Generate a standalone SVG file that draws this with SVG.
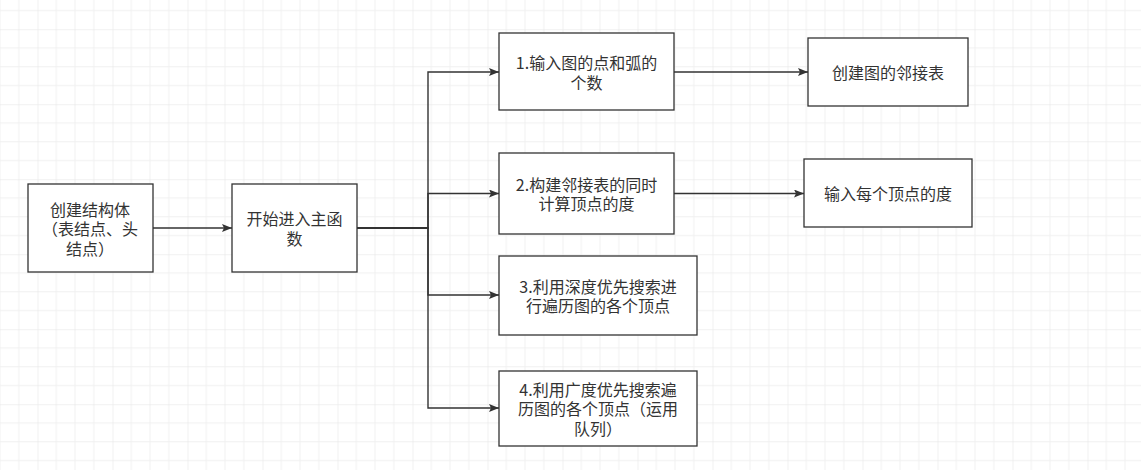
<svg xmlns="http://www.w3.org/2000/svg" width="1141" height="470" viewBox="0 0 1141 470">
  <defs>
    <pattern id="grid" patternUnits="userSpaceOnUse" x="37.5" y="29.25" width="75" height="75">
      <path d="M18.75 0V75M37.5 0V75M56.25 0V75M0 18.75H75M0 37.5H75M0 56.25H75" stroke="#f0f0f0" stroke-width="1" fill="none"/>
      <path d="M0 0V75M0 0H75" stroke="#e4e4e4" stroke-width="1" fill="none"/>
    </pattern>
    <marker id="arr" viewBox="0 0 10 8" refX="10" refY="4" markerWidth="10" markerHeight="8" markerUnits="userSpaceOnUse" orient="auto">
      <path d="M0 0L10 4L0 8L2 4Z" fill="#333"/>
    </marker>
    <style>
      .box { fill: #ffffff; stroke: #333333; stroke-width: 1.3; }
      .t { font-family: "Noto Sans CJK SC", "Noto Sans", sans-serif; font-size: 16px; fill: #333333; text-anchor: middle; dominant-baseline: central; }
      .edge { fill: none; stroke: #333333; stroke-width: 1.4; marker-end: url(#arr); }
    </style>
  </defs>
  <rect width="1141" height="470" fill="#ffffff"/>
  <rect width="1141" height="470" fill="url(#grid)"/>

  <g id="connectors">
    <path class="edge" d="M153 228H232"/>
    <path class="edge" d="M357 228H428V72H499"/>
    <path class="edge" d="M357 228H428V193.5H499"/>
    <path class="edge" d="M357 228H428V295H499"/>
    <path class="edge" d="M357 228H428V408H499"/>
    <path class="edge" d="M674 72H808"/>
    <path class="edge" d="M674 193.5H804"/>
  </g>

  <g id="node-struct">
    <rect class="box" x="28" y="184" width="125" height="88"/>
    <text class="t" x="90" y="208.5">创建结构体</text>
    <text class="t" x="90" y="228">（表结点、头</text>
    <text class="t" x="90" y="247.5">结点）</text>
  </g>
  <g id="node-main">
    <rect class="box" x="232" y="184" width="125" height="88"/>
    <text class="t" x="294.5" y="218.3">开始进入主函</text>
    <text class="t" x="294.5" y="237.7">数</text>
  </g>
  <g id="node-1">
    <rect class="box" x="499" y="33" width="175" height="77"/>
    <text class="t" x="586.5" y="62.3">1.输入图的点和弧的</text>
    <text class="t" x="586.5" y="81.7">个数</text>
  </g>
  <g id="node-1b">
    <rect class="box" x="808" y="38" width="160" height="68"/>
    <text class="t" x="888" y="72">创建图的邻接表</text>
  </g>
  <g id="node-2">
    <rect class="box" x="499" y="153" width="175" height="81"/>
    <text class="t" x="586.5" y="183.8">2.构建邻接表的同时</text>
    <text class="t" x="586.5" y="203.2">计算顶点的度</text>
  </g>
  <g id="node-2b">
    <rect class="box" x="804" y="159" width="168" height="68"/>
    <text class="t" x="888" y="193">输入每个顶点的度</text>
  </g>
  <g id="node-3">
    <rect class="box" x="499" y="256" width="198" height="79"/>
    <text class="t" x="598" y="285.8">3.利用深度优先搜索进</text>
    <text class="t" x="598" y="305.2">行遍历图的各个顶点</text>
  </g>
  <g id="node-4">
    <rect class="box" x="499" y="371" width="198" height="75"/>
    <text class="t" x="598" y="388.8">4.利用广度优先搜索遍</text>
    <text class="t" x="598" y="408.3">历图的各个顶点（运用</text>
    <text class="t" x="598" y="427.8">队列）</text>
  </g>
</svg>
